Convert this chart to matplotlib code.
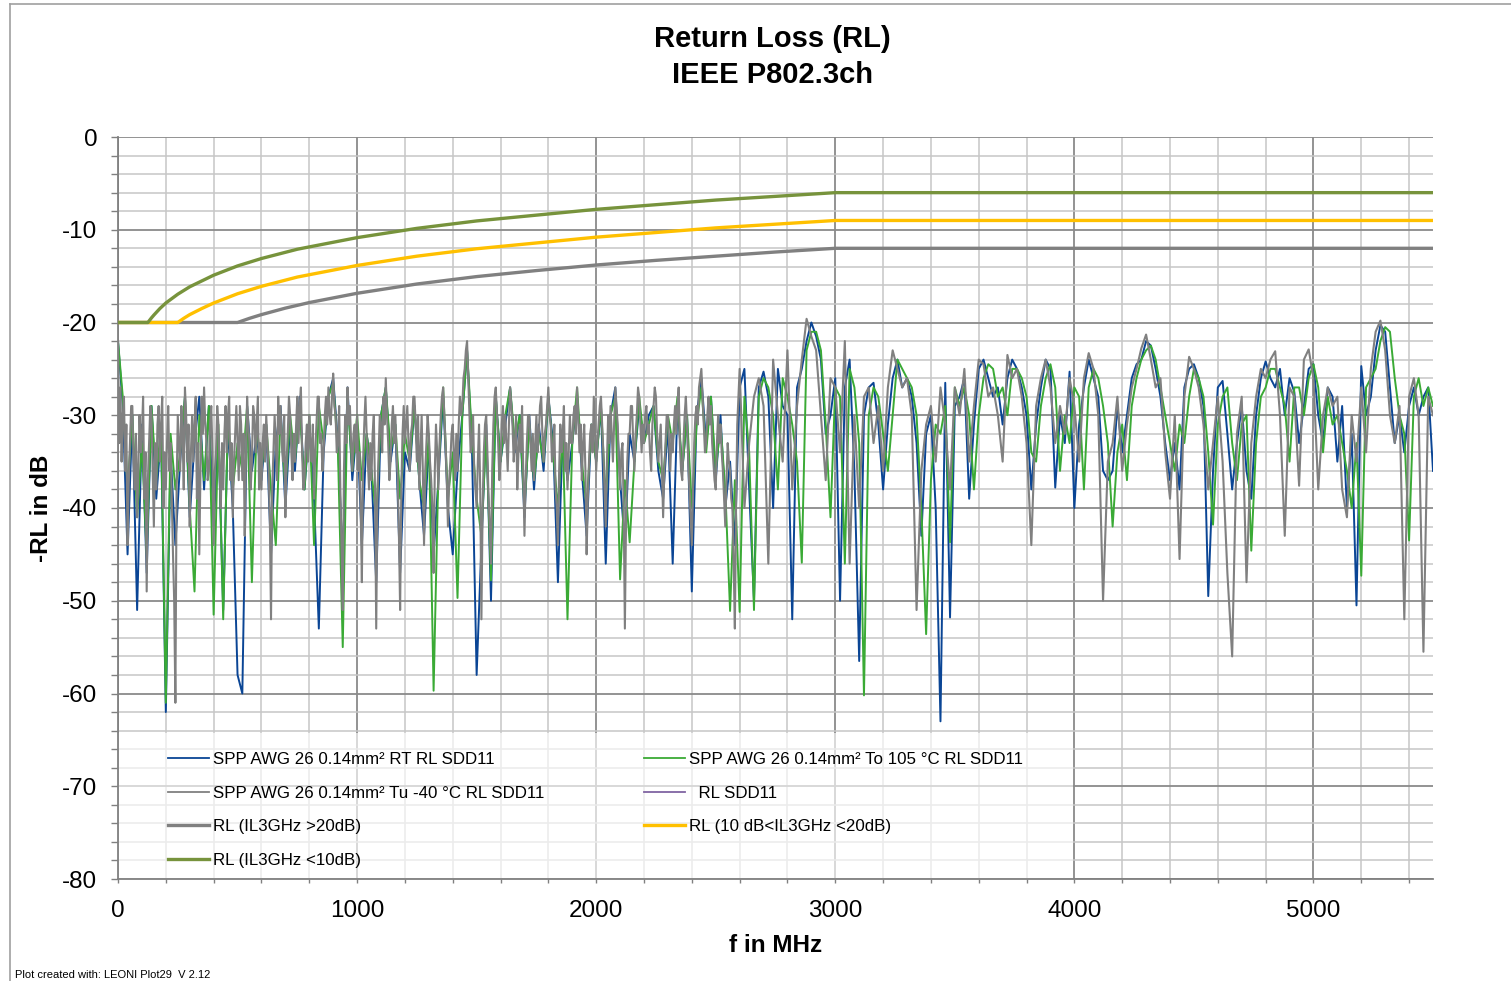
import numpy as np
import matplotlib
matplotlib.use('Agg')
import matplotlib.pyplot as plt
from matplotlib.patches import Rectangle
from matplotlib.lines import Line2D
from matplotlib.ticker import MultipleLocator

plt.rcParams['font.family'] = ['Liberation Sans', 'DejaVu Sans']
plt.rcParams['axes.unicode_minus'] = False

# ---------------- data ----------------
freq = np.arange(0, 5501, 20)  # MHz sample grid (blue / green traces)
freq_cold = np.concatenate([np.arange(0, 2600, 5), np.arange(2600, 5501, 20)])  # grey trace grid

rl_rt = [  # SPP AWG 26 0.14mm² RT RL SDD11 (blue)
    -22, -29, -45, -30, -51, -31, -47, -29, -39, -32,
    -62, -34, -44, -35, -28, -41, -33, -28, -38, -29,
    -42, -32, -51, -31, -40, -58, -60, -29, -36, -32,
    -37, -31, -45, -33, -29, -40, -31, -36, -28, -38,
    -31, -39, -53, -34, -28, -26, -33, -46, -27, -37,
    -31, -44, -32, -36, -48, -30, -27, -35, -31, -47,
    -34, -36, -29, -37, -43, -33, -45, -37, -28, -40,
    -45, -36, -30, -23, -33, -58, -44, -31, -50, -28,
    -35, -31, -27, -34, -30, -41, -30, -38, -31, -36,
    -28, -33, -48, -32, -37, -33, -28, -36, -43, -31,
    -35, -29, -46, -30, -27, -37, -44, -32, -35, -29,
    -33, -30, -29, -36, -39, -31, -46, -29, -36, -30,
    -49, -30, -26, -33, -28, -37, -30, -40, -35, -44,
    -27, -25, -38, -50, -27, -25.3, -28, -40, -25, -29,
    -30, -52, -27, -25, -22, -20, -21.5, -24, -32, -30,
    -26, -50, -27, -24, -36, -56.5, -30, -27, -26.5, -31,
    -38, -31, -26, -24, -27, -26, -28, -33, -43, -32,
    -30, -40, -63, -26.5, -51.8, -29, -28, -26, -39, -31,
    -25, -24, -26, -28, -27, -31, -26, -24, -25, -27,
    -30, -38, -31, -27, -24, -25, -37.8, -30, -33, -25.3,
    -40, -31, -27, -24, -26, -28, -36, -37, -36, -29,
    -34, -30, -26, -24.5, -24, -22, -22.5, -25, -28, -33,
    -37, -33, -38, -27, -25, -24.5, -26, -29, -49.5, -36,
    -27, -26.3, -32, -38, -33, -29, -36, -39, -30, -26,
    -24.2, -26, -27, -25, -30, -26, -27.5, -33, -29, -25,
    -24.5, -30, -33, -27, -28, -35, -29, -40, -32, -50.5,
    -24.7, -30, -28, -23, -20.3, -21, -27, -33, -30, -34,
    -29, -27, -30, -28, -27, -36,
]

rl_hot = [  # SPP AWG 26 0.14mm² To 105 °C RL SDD11 (green)
    -22, -28, -38, -30, -41, -33, -45, -29, -37, -31,
    -61, -32, -38, -34, -28, -40, -49, -30, -37, -29,
    -51.5, -31, -52, -30, -38, -33, -36, -29, -48, -31,
    -36, -31, -38, -44, -30, -38, -30, -35, -29, -38,
    -30, -44, -29, -33, -28, -26.5, -34, -55, -28, -36,
    -30, -37, -32, -36, -41, -30, -27, -34, -31, -39,
    -32, -35, -29, -37, -40, -32, -59.7, -36, -27, -39,
    -34, -49.7, -30, -23, -32, -39, -43, -32, -47.8, -28,
    -35, -30, -27, -33, -30, -40, -31, -37, -32, -35,
    -28, -34, -40, -32, -52, -33, -27, -35, -40, -31,
    -35, -29, -39, -30, -28, -47.7, -37, -43.7, -35, -28,
    -33, -31, -29, -35, -37, -30, -33, -28, -36, -30,
    -40, -31, -27, -34, -28, -36, -31, -38, -51.1, -37,
    -51.2, -28, -34, -51, -28, -26, -27, -30, -38, -26,
    -28, -31, -35, -45.9, -23, -21, -21, -23, -31, -41,
    -27, -28, -46, -25, -27, -33, -60.2, -30, -27, -28,
    -32, -36, -30, -24, -25, -26, -27, -30, -40, -53.6,
    -37, -31, -32, -29, -43.7, -27, -29, -27, -30, -38,
    -30, -26, -24.5, -25, -28, -27, -30, -25, -25, -26,
    -28, -34, -35, -29, -26, -24.5, -27, -36, -30, -33,
    -27, -28, -38, -27, -25, -26, -29, -33, -42, -34,
    -31, -37, -29, -26, -24, -23, -22.5, -24, -27, -30,
    -33, -36, -31, -33, -28, -25, -26, -28, -34, -41.8,
    -31, -28, -27, -33, -37, -31, -30, -44.6, -33, -28,
    -27, -25, -25, -27, -29, -35, -27, -27, -30, -26,
    -24.5, -27, -34, -28, -31, -30, -33, -36, -40, -33,
    -47.3, -27, -26, -25, -22, -20.5, -21, -26, -30, -32,
    -43.5, -28, -26, -29, -27, -29,
]

rl_cold = [  # SPP AWG 26 0.14mm² Tu -40 °C RL SDD11 (grey); 5 MHz steps below 2600 MHz
    -22, -33, -27, -35, -30, -28, -36, -31, -44, -37, -33, -29, -29, -35, -38, -32, -41, -36, -30, -34,
    -32, -28, -39, -34, -49, -37, -33, -29, -30, -36, -42, -33, -38, -31, -29, -35, -31, -28, -40, -34,
    -38, -33, -29, -36, -33, -39, -45, -50, -61, -38, -30, -33, -36, -29, -32, -38, -27, -30, -35, -31,
    -42, -34, -30, -35, -31, -28, -39, -33, -45, -36, -28, -32, -27, -31, -33, -37, -36, -31, -29, -34,
    -44, -36, -34, -29, -31, -36, -40, -33, -38, -32, -29, -34, -30, -28, -37, -33, -41, -35, -32, -29,
    -33, -37, -29, -31, -37, -32, -43, -35, -28, -31, -33, -38, -35, -29, -30, -34, -31, -28, -38, -33,
    -38, -33, -31, -35, -30, -33, -36, -41, -52, -38, -34, -30, -33, -37, -28, -32, -29, -33, -35, -30,
    -41, -35, -32, -28, -30, -34, -37, -32, -35, -31, -28, -33, -29, -27, -34, -38, -37, -33, -31, -35,
    -30, -33, -35, -31, -39, -34, -31, -28, -28, -33, -32, -36, -34, -30, -28, -31, -27, -30, -31, -28,
    -25.5, -29, -30, -34, -33, -29, -38, -44, -51, -36, -30, -33, -27, -31, -29, -33, -36, -32, -31, -34,
    -30, -36, -34, -40, -48, -35, -31, -28, -32, -35, -38, -33, -37, -32, -30, -38, -53, -39, -34, -30,
    -31, -34, -28, -31, -26, -30, -33, -37, -35, -31, -29, -33, -30, -34, -37, -43, -51, -38, -32, -29,
    -33, -31, -29, -33, -36, -32, -31, -28, -28, -31, -35, -30, -38, -34, -30, -36, -44, -36, -33, -30,
    -32, -35, -37, -40, -47, -36, -31, -34, -38, -33, -30, -28, -27, -30, -33, -37, -42, -37, -35, -32,
    -31, -34, -37, -32, -36, -31, -28, -30, -29, -26, -25, -23, -22, -26, -30, -34, -33, -30, -36, -38,
    -40, -35, -31, -38, -52, -40, -34, -31, -30, -34, -39, -42, -46, -36, -31, -28, -27, -30, -33, -37,
    -35, -31, -29, -33, -30, -33, -36, -31, -27, -29, -31, -35, -33, -30, -38, -34, -31, -34, -29, -36,
    -43, -37, -33, -30, -30, -33, -36, -32, -37, -33, -30, -34, -32, -29, -28, -32, -35, -32, -31, -29,
    -27, -30, -31, -35, -34, -31, -38, -40, -44, -36, -31, -34, -32, -29, -36, -33, -38, -34, -30, -33,
    -33, -30, -29, -32, -27, -30, -34, -31, -37, -33, -31, -36, -45, -39, -35, -32, -31, -34, -28, -32,
    -36, -33, -31, -29, -28, -31, -34, -38, -42, -35, -30, -33, -29, -32, -35, -31, -27, -29, -31, -35,
    -38, -34, -33, -40, -53, -41, -35, -32, -32, -29, -29, -33, -36, -32, -30, -27, -28, -31, -34, -31,
    -33, -30, -29, -32, -31, -34, -36, -31, -29, -27, -28, -32, -35, -33, -31, -36, -41, -36, -33, -30,
    -30, -33, -36, -32, -34, -31, -29, -32, -29, -27, -33, -36, -37, -33, -30, -28, -31, -35, -38, -41,
    -44, -38, -33, -30, -29, -31, -27, -26, -25, -28, -31, -34, -33, -30, -28, -31, -29, -33, -35, -37,
    -38, -33, -30, -33, -31, -34, -36, -39, -42, -37, -33, -35, -36, -39, -40, -46, -53, -40, -31, -28,
    -25, -40, -33, -28, -26, -29, -46, -24, -30, -35,
    -23, -38, -29, -24, -19.6, -21.5, -23, -30, -37, -26,
    -27, -34, -22, -46, -30, -40, -28, -27, -33, -29,
    -36, -27, -23, -25, -27, -26, -30, -51, -36, -31,
    -29, -35, -27, -31, -38, -27, -30, -25, -35, -29,
    -24, -24.5, -28, -27, -30, -35, -23.5, -26, -25, -28,
    -33, -44, -29, -26, -24, -27, -33, -29, -32, -26,
    -29, -35, -26, -23.3, -25, -30, -50, -35, -33, -28,
    -36, -31, -27, -25, -22.8, -21.3, -24, -27, -26, -34,
    -39, -30, -45.5, -28, -23.7, -25, -27, -31, -38, -33,
    -28, -35, -47, -56, -32, -28, -48, -33, -28, -25,
    -26, -24, -23.1, -30, -43, -27, -28, -37.6, -24, -22.9,
    -26, -38, -30, -27, -29, -28, -38, -41, -30, -35,
    -27, -34, -25, -21, -19.8, -23, -30, -33, -29, -52,
    -28, -26, -30, -55.5, -28, -30,
]

# limit lines
lim_gt20_f = [0, 500, 550, 600, 700, 800, 900, 1000, 1250, 1500, 1750, 2000, 2250, 2500, 2750, 3000, 5500]
lim_gt20_v = [-20, -20, -19.55, -19.15, -18.45, -17.85, -17.35, -16.85, -15.85, -15.05, -14.4,
              -13.8, -13.3, -12.85, -12.4, -12.0, -12.0]
lim_mid_f = [0, 250, 275, 300, 350, 400, 450, 500, 600, 750, 1000, 1250, 1500, 2000, 2500, 3000, 5500]
lim_mid_v = [-20, -20, -19.55, -19.15, -18.5, -17.9, -17.4, -16.9, -16.1, -15.1, -13.85, -12.85,
             -12.05, -10.8, -9.8, -9.0, -9.0]
lim_lt10_f = [0, 125, 140, 150, 175, 200, 250, 300, 400, 500, 600, 750, 1000, 1250, 1500, 2000, 2500, 3000, 5500]
lim_lt10_v = [-20, -20, -19.5, -19.2, -18.5, -17.9, -16.95, -16.15, -14.9, -13.9, -13.1, -12.1,
              -10.85, -9.85, -9.05, -7.8, -6.8, -6.0, -6.0]

labels = {
    'rt': 'SPP AWG 26 0.14mm² RT RL SDD11',
    'hot': 'SPP AWG 26 0.14mm² To 105 °C RL SDD11',
    'cold': 'SPP AWG 26 0.14mm² Tu -40 °C RL SDD11',
    'sdd': '  RL SDD11',
    'gt20': 'RL (IL3GHz >20dB)',
    'mid': 'RL (10 dB<IL3GHz <20dB)',
    'lt10': 'RL (IL3GHz <10dB)',
}

C_BLUE = '#0a4595'
C_GREEN = '#3aaa35'
C_GREY = '#808080'
C_PURPLE = '#8064a2'
C_YELLOW = '#ffc000'
C_OLIVE = '#77933c'

# ---------------- figure ----------------
W, H = 1511, 981
fig = plt.figure(figsize=(W / 100, H / 100), dpi=100)
ax = fig.add_axes([118 / W, 1 - 879 / H, (1433 - 118) / W, (879 - 137) / H])

ax.set_xlim(0, 5500)
ax.set_ylim(-80, 0)
ax.xaxis.set_major_locator(MultipleLocator(1000))
ax.xaxis.set_minor_locator(MultipleLocator(200))
ax.yaxis.set_major_locator(MultipleLocator(10))
ax.yaxis.set_minor_locator(MultipleLocator(2))
ax.set_axisbelow(True)
ax.grid(which='major', color='#8a8a8a', lw=1.3)
ax.grid(which='minor', color='#c6c6c6', lw=1.1)

for s in ('top', 'right'):
    ax.spines[s].set_visible(False)
for s in ('left', 'bottom'):
    ax.spines[s].set_color('#808080')
    ax.spines[s].set_linewidth(1.3)

ax.tick_params(axis='both', which='both', colors='#808080', labelcolor='black')
ax.tick_params(axis='y', which='both', direction='out', length=5, width=1, pad=10, labelsize=17.5)
ax.tick_params(axis='x', which='both', direction='out', length=3, width=1, pad=12, labelsize=17.5)

# semi-transparent legend background
ax.add_patch(Rectangle((0, 0), (1073 - 118) / 1315, (879 - 733) / 742,
                       transform=ax.transAxes, facecolor='white', alpha=0.65,
                       edgecolor='none', zorder=1))

h_rt, = ax.plot(freq, rl_rt, color=C_BLUE, lw=1.4, zorder=2.0, label=labels['rt'])
h_hot, = ax.plot(freq, rl_hot, color=C_GREEN, lw=1.4, zorder=2.1, label=labels['hot'])
h_cold, = ax.plot(freq_cold, rl_cold, color=C_GREY, lw=1.5, zorder=2.2, label=labels['cold'])
h_sdd, = ax.plot([], [], color=C_PURPLE, lw=1.3, label=labels['sdd'])
h_gt20, = ax.plot(lim_gt20_f, lim_gt20_v, color=C_GREY, lw=2.4, zorder=3, label=labels['gt20'])
h_mid, = ax.plot(lim_mid_f, lim_mid_v, color=C_YELLOW, lw=2.4, zorder=3, label=labels['mid'])
h_lt10, = ax.plot(lim_lt10_f, lim_lt10_v, color=C_OLIVE, lw=2.4, zorder=3, label=labels['lt10'])

handles = [h_rt, h_cold, h_gt20, h_lt10, h_hot, h_sdd, h_mid]
leg = ax.legend(handles=handles, labels=[h.get_label() for h in handles], ncol=2,
                loc='upper left', bbox_to_anchor=((168 - 118) / 1315, (879 - 752) / 742),
                frameon=False, fontsize=12.2, borderpad=0, borderaxespad=0,
                handlelength=2.42, handletextpad=0.24, labelspacing=1.1, columnspacing=5.9)
for lh in leg.get_lines():
    if lh.get_linewidth() < 2:
        lh.set_linewidth(1.3)

ax.set_xlabel('f in MHz', fontsize=17.5, fontweight='bold')
ax.set_ylabel('-RL in dB', fontsize=17.5, fontweight='bold')
ax.xaxis.set_label_coords(0.5, -(934 - 879) / 742)
ax.yaxis.set_label_coords(-(118 - 53) / 1315, 0.5)

fig.text(772 / W, 1 - 57 / H, 'Return Loss (RL)\nIEEE P802.3ch', ha='center', va='center',
         fontsize=21, fontweight='bold', linespacing=1.38)
fig.text(15 / W, 1 - 975 / H, 'Plot created with: LEONI Plot29  V 2.12', fontsize=8,
         va='center', ha='left')

# outer frame lines
fig.add_artist(Line2D([10 / W, 1], [1 - 4 / H, 1 - 4 / H], color='#a0a0a0', lw=1.2,
                      transform=fig.transFigure))
fig.add_artist(Line2D([10 / W, 10 / W], [0, 1 - 4 / H], color='#a0a0a0', lw=1.2,
                      transform=fig.transFigure))

fig.savefig('out.png', dpi=100)
